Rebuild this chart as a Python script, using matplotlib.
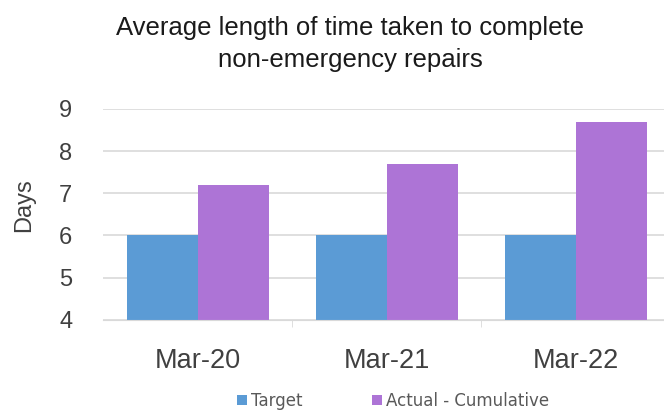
import matplotlib
matplotlib.use("Agg")
import matplotlib.pyplot as plt
import numpy as np

categories = ["Mar-20", "Mar-21", "Mar-22"]
target = [6, 6, 6]
actual_cumulative = [7.2, 7.7, 8.7]
series_names = ["Target", "Actual - Cumulative"]
y_ticks = [4, 5, 6, 7, 8, 9]

fig = plt.figure(figsize=(6.64, 4.11), dpi=100)
ax = fig.add_axes([0.155, 0.222, 0.855, 0.513])

x = np.arange(len(categories))
w = 0.375
ax.bar(x - w / 2, [t - 4 for t in target], w, bottom=4, color="#5b9bd5", label=series_names[0])
ax.bar(x + w / 2, [a - 4 for a in actual_cumulative], w, bottom=4, color="#ad74d6", label=series_names[1])

ax.set_ylim(4, 9)
ax.set_xlim(-0.5, 2.5)
ax.set_yticks(y_ticks)
ax.set_xticks(x)
ax.set_xticklabels(categories, family="Liberation Sans", fontsize=19.5, color="#404040")
ax.set_yticklabels([str(v) for v in y_ticks], family="Liberation Sans", fontsize=17, color="#404040")
ax.tick_params(axis="x", length=0, pad=20)
ax.tick_params(axis="y", length=0, pad=22)
ax.set_xticks([0.5, 1.5], minor=True)
ax.tick_params(axis="x", which="minor", length=5, color="#d9d9d9")
ax.grid(axis="y", color="#d9d9d9", linewidth=1.2)
ax.set_axisbelow(True)
for s in ["top", "right", "left"]:
    ax.spines[s].set_visible(False)
ax.spines["bottom"].set_color("#d9d9d9")

ax.set_ylabel("Days", family="Liberation Sans", fontsize=17, color="#404040")
ax.yaxis.set_label_coords(-0.12, 0.545)

fig.text(0.527, 0.893, "Average length of time taken to complete\nnon-emergency repairs",
         ha="center", va="center", family="Liberation Sans", fontsize=18.5, color="#1a1a1a",
         linespacing=1.45)

fig.legend(loc="center", bbox_to_anchor=(0.592, 0.025), ncol=2, frameon=False,
           prop={"family": "DejaVu Sans", "size": 12}, handlelength=0.6, handleheight=0.6,
           handletextpad=0.2, columnspacing=4.2, labelcolor="#595959")

fig.savefig("out.png", dpi=100)
